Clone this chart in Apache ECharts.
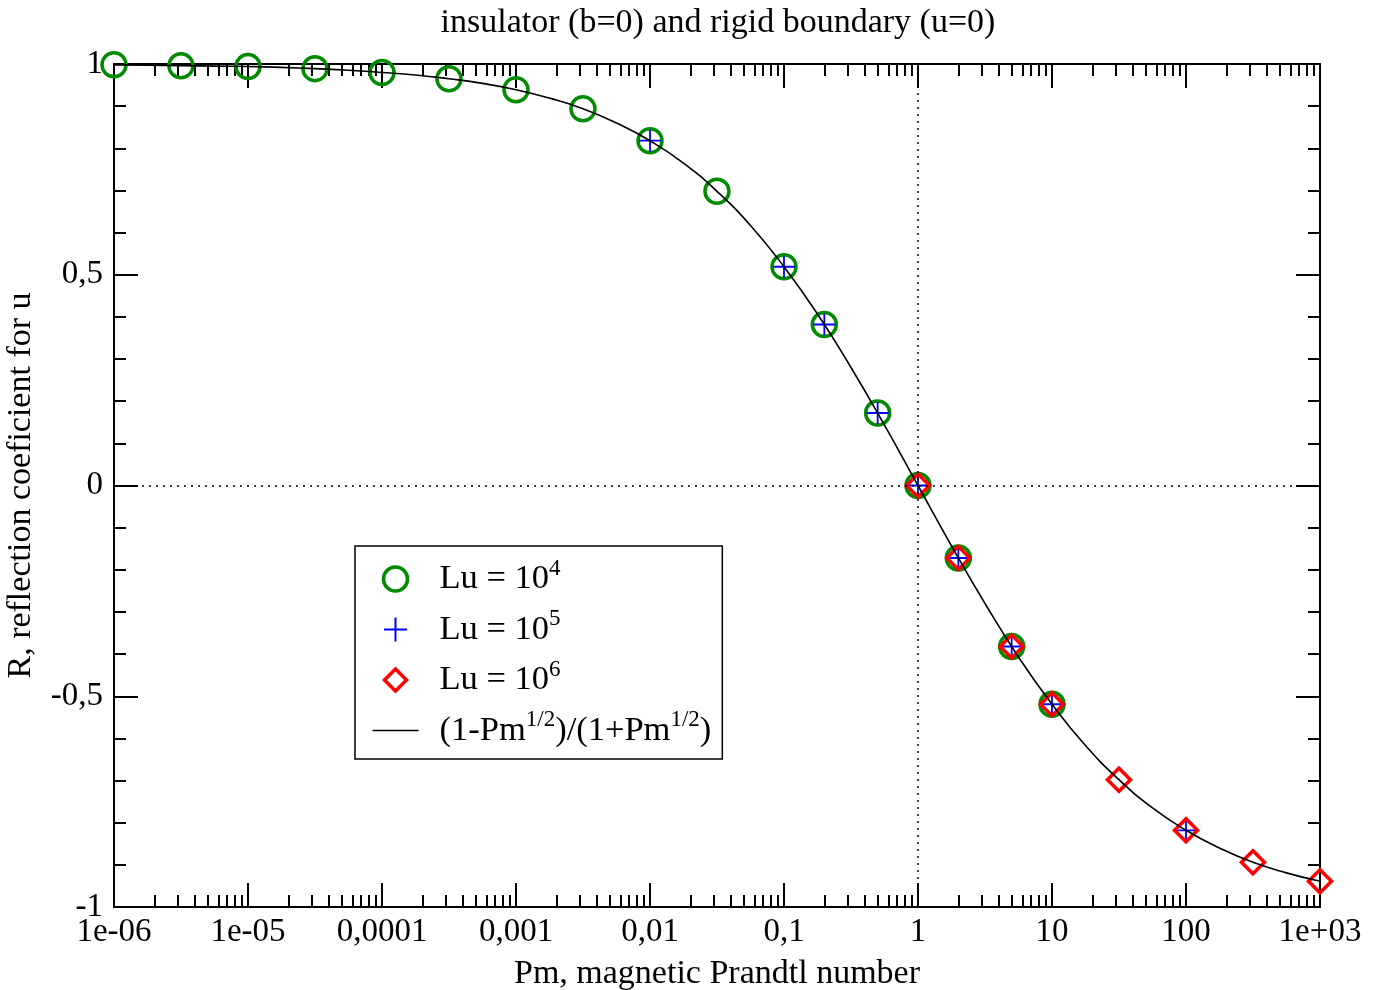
<!DOCTYPE html>
<html><head><meta charset="utf-8">
<script src="https://cdn.jsdelivr.net/npm/echarts@6/dist/echarts.min.js"></script>
<style>html,body{margin:0;padding:0;background:#fff}#c{width:1392px;height:990px}</style>
</head><body><div id="c"></div>
<script>
// ---- text ----
const titleText = 'insulator (b=0) and rigid boundary (u=0)';
const xName = 'Pm, magnetic Prandtl number';
const yName = 'R, reflection coeficient for u';
const xTickLabels = ['1e-06','1e-05','0,0001','0,001','0,01','0,1','1','10','100','1e+03'];
const yTickLabels = ['-1','-0,5','0','0,5','1'];
const seriesNames = ['Lu = 10^4','Lu = 10^5','Lu = 10^6','(1-Pm^1/2)/(1+Pm^1/2)'];

// ---- data ----
const lu4Pm = [1e-6,3.16e-6,1e-5,3.16e-5,1e-4,3.16e-4,1e-3,3.16e-3,0.01,0.0316,0.1,0.2,0.5,1,2,5,10];
const lu4R  = [0.998,0.996,0.994,0.989,0.980,0.965,0.939,0.894,0.818,0.698,0.519,0.382,0.172,0,-0.172,-0.382,-0.519];
const lu5Pm = [0.01,0.1,0.2,0.5,1,2,5,10,100];
const lu5R  = [0.818,0.519,0.382,0.172,0,-0.172,-0.382,-0.519,-0.818];
const lu6Pm = [1,2,5,10,31.6,100,316,1000];
const lu6R  = [0,-0.172,-0.382,-0.519,-0.698,-0.818,-0.894,-0.939];
const curvePm = [1e-6,1.778e-6,3.162e-6,5.623e-6,1e-5,1.778e-5,3.162e-5,5.623e-5,1e-4,1.778e-4,3.162e-4,5.623e-4,1e-3,1.778e-3,3.162e-3,5.623e-3,0.01,0.01778,0.03162,0.05623,0.1,0.1778,0.3162,0.5623,1,1.778,3.162,5.623,10,17.78,31.62,56.23,100,177.8,316.2,562.3,1000];
const curveR  = [0.998,0.997,0.996,0.995,0.994,0.992,0.989,0.985,0.980,0.974,0.965,0.954,0.939,0.919,0.894,0.860,0.818,0.765,0.698,0.617,0.519,0.407,0.280,0.143,0,-0.143,-0.280,-0.407,-0.519,-0.617,-0.698,-0.765,-0.818,-0.860,-0.894,-0.919,-0.939];

const FONT = 'Liberation Serif, Times New Roman, serif';
const zip = (a, b) => a.map((v, i) => [v, b[i]]);

const minorX = [];
for (let d = -6; d < 3; d++) for (let k = 2; k <= 9; k++) minorX.push(k * Math.pow(10, d));

const tickLine = { color: '#000', width: 2 };
const labelStyle = { color: '#000', fontFamily: FONT, fontSize: 33 };

function xMajor(pos, withLabels) {
  return {
    type: 'log', logBase: 10, position: pos, min: 1e-6, max: 1e3, gridIndex: 0,
    axisLine: { show: true, onZero: false, lineStyle: { color: '#000', width: 2 } },
    axisTick: { show: true, inside: true, length: 24, lineStyle: tickLine },
    axisLabel: withLabels ? Object.assign({
      show: true, margin: 9, showMinLabel: true, showMaxLabel: true,
      formatter: v => xTickLabels[Math.round(Math.log10(v)) + 6]
    }, labelStyle) : { show: false },
    splitLine: { show: false }, minorTick: { show: false }, minorSplitLine: { show: false },
    name: withLabels ? xName : '', nameLocation: 'middle', nameGap: 50,
    nameTextStyle: { color: '#000', fontFamily: FONT, fontSize: 34 }
  };
}
function xMinor(pos) {
  return {
    type: 'log', logBase: 10, position: pos, min: 1e-6, max: 1e3, gridIndex: 0,
    axisLine: { show: false, onZero: false },
    axisTick: { show: true, inside: true, length: 12, customValues: minorX, lineStyle: tickLine },
    axisLabel: { show: false }, splitLine: { show: false }
  };
}
function yAx(pos, withLabels) {
  return {
    type: 'value', position: pos, min: -1, max: 1, interval: 0.5, gridIndex: 0,
    axisLine: { show: true, onZero: false, lineStyle: { color: '#000', width: 2 } },
    axisTick: { show: true, inside: true, length: 24, lineStyle: tickLine },
    minorTick: { show: true, splitNumber: 5, length: 12, lineStyle: tickLine },
    axisLabel: withLabels ? Object.assign({
      show: true, margin: 11, showMinLabel: true, showMaxLabel: true,
      formatter: v => yTickLabels[Math.round((v + 1) / 0.5)]
    }, labelStyle) : { show: false },
    splitLine: { show: false },
    name: withLabels ? yName : '', nameLocation: 'middle', nameGap: 76,
    nameTextStyle: { color: '#000', fontFamily: FONT, fontSize: 34 }
  };
}

const legendRich = {
  m: { fontFamily: FONT, fontSize: 34.5, lineHeight: 44, color: '#000' },
  s: { fontFamily: FONT, fontSize: 23, lineHeight: 15, verticalAlign: 'top', color: '#000' }
};
const legendText = {
  [seriesNames[0]]: '{m|Lu = 10}{s|4}',
  [seriesNames[1]]: '{m|Lu = 10}{s|5}',
  [seriesNames[2]]: '{m|Lu = 10}{s|6}',
  [seriesNames[3]]: '{m|(1-Pm}{s|1/2}{m|)/(1+Pm}{s|1/2}{m|)}'
};

const GREEN = '#008b00', BLUE = '#0000ff', RED = '#ff0000';
const plusSym = 'path://M0,10L20,10M10,0L10,20';
const plusIcon = 'path://M0,0M46,24M11.5,12L34.5,12M23,0L23,24';
const diamondIcon = 'path://M0,0M46,24M23,1L34,12L23,23L12,12Z';
const lineIcon = 'path://M0,0M46,24M0,12L46,12';

const option = {
  animation: false,
  backgroundColor: '#fff',
  title: {
    text: titleText, left: 713, top: 1, textAlign: 'center', padding: 5,
    textStyle: { fontFamily: FONT, fontSize: 34, fontWeight: 'normal', color: '#000' }
  },
  grid: { left: 114, right: 72, top: 64, bottom: 83, containLabel: false, outerBoundsMode: 'none' },
  legend: {
    orient: 'vertical', left: 355, top: 546, padding: [11, 11, 11, 15],
    itemGap: 11, itemWidth: 46, itemHeight: 24,
    borderColor: '#000', borderWidth: 1.5, backgroundColor: '#fff',
    selectedMode: false,
    formatter: n => legendText[n],
    textStyle: { color: '#000', fontFamily: FONT, fontSize: 34.5, padding: [0, 0, 0, 16], rich: legendRich },
    data: [
      { name: seriesNames[0], icon: 'circle', itemStyle: { color: 'none', borderColor: GREEN, borderWidth: 3.5, opacity: 1 } },
      { name: seriesNames[1], icon: plusIcon, itemStyle: { color: 'none', borderColor: BLUE, borderWidth: 2, opacity: 1 } },
      { name: seriesNames[2], icon: diamondIcon, itemStyle: { color: 'none', borderColor: RED, borderWidth: 3.5, opacity: 1 } },
      { name: seriesNames[3], icon: lineIcon, itemStyle: { color: 'none', borderColor: '#000', borderWidth: 1.5, opacity: 1 } }
    ]
  },
  xAxis: [xMajor('bottom', true), xMinor('bottom'), xMajor('top', false), xMinor('top')],
  yAxis: [yAx('left', true), yAx('right', false)],
  series: [
    {
      name: seriesNames[0], type: 'scatter', xAxisIndex: 0, yAxisIndex: 0,
      symbol: 'circle', symbolSize: 24, silent: true,
      itemStyle: { color: 'none', borderColor: GREEN, borderWidth: 3.5, opacity: 1 },
      data: zip(lu4Pm, lu4R),
      markLine: {
        silent: true, symbol: 'none', label: { show: false }, animation: false,
        lineStyle: { color: '#000', type: [2, 5], width: 1.5, opacity: 1 },
        emphasis: { disabled: true },
        data: [{ xAxis: 1 }, { yAxis: 0 }]
      }
    },
    {
      name: seriesNames[1], type: 'scatter', xAxisIndex: 0, yAxisIndex: 0,
      symbol: plusSym, symbolSize: 22, silent: true,
      itemStyle: { color: 'none', borderColor: BLUE, borderWidth: 1.8, opacity: 1 },
      data: zip(lu5Pm, lu5R)
    },
    {
      name: seriesNames[2], type: 'scatter', xAxisIndex: 0, yAxisIndex: 0,
      symbol: 'diamond', symbolSize: 23, silent: true,
      itemStyle: { color: 'none', borderColor: RED, borderWidth: 3.5, opacity: 1 },
      data: zip(lu6Pm, lu6R)
    },
    {
      name: seriesNames[3], type: 'line', xAxisIndex: 0, yAxisIndex: 0,
      symbol: 'none', showSymbol: false, smooth: true, silent: true,
      lineStyle: { color: '#000', width: 1.6 },
      data: zip(curvePm, curveR)
    }
  ]
};

const chart = echarts.init(document.getElementById('c'), null, { renderer: 'canvas' });
chart.setOption(option);
</script>
</body></html>
